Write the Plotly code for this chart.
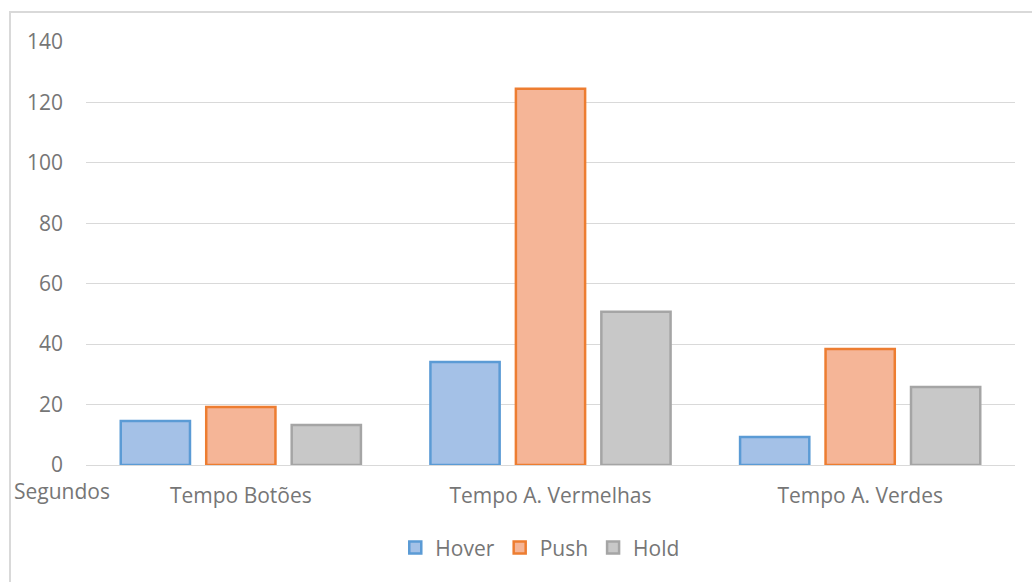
import plotly.graph_objects as go

categories = ["Tempo Botões", "Tempo A. Vermelhas", "Tempo A. Verdes"]
hover = [14.6, 34.1, 9.3]
push = [19.2, 124.5, 38.4]
hold = [13.2, 50.7, 25.8]
y_ticks = [0, 20, 40, 60, 80, 100, 120, 140]

series = [
    ("Hover", hover, "#a4c1e7", "#5b9bd5"),
    ("Push", push, "#f5b597", "#ed7d31"),
    ("Hold", hold, "#c8c8c8", "#a5a5a5"),
]

fig = go.Figure()
for name, vals, fill, line in series:
    fig.add_trace(go.Bar(
        name=name, x=categories, y=vals,
        marker=dict(color=fill, line=dict(color=line, width=2.5)),
    ))

font_family = "'Open Sans', Lato, sans-serif"
text_color = "#767676"
fs = 21
fig.update_layout(
    width=1032, height=582,
    margin=dict(l=86, r=17, t=42, b=117),
    paper_bgcolor="white", plot_bgcolor="white",
    barmode="group", bargap=0.172, bargroupgap=0.19,
    font=dict(family=font_family, size=fs, color=text_color),
    xaxis=dict(showgrid=False, showline=False, zeroline=False,
               ticks="", ticklabelstandoff=16,
               tickfont=dict(size=fs, color=text_color)),
    yaxis=dict(range=[0, 140], tickvals=y_ticks, showgrid=True,
               gridcolor="#d9d9d9", gridwidth=1, zeroline=True,
               zerolinecolor="#d9d9d9", zerolinewidth=1, showline=False,
               ticks="", ticklabelstandoff=22,
               tickfont=dict(size=fs, color=text_color)),
    legend=dict(orientation="h", x=0.489, xanchor="center", y=-0.196,
                yanchor="middle", font=dict(size=fs, color=text_color),
                itemwidth=30, traceorder="normal"),
    showlegend=True,
)

# axis title placed under the value axis
fig.add_annotation(text="Segundos", xref="paper", yref="paper",
                   x=-0.026, y=-0.061, xanchor="center", yanchor="middle",
                   showarrow=False, font=dict(size=fs, color=text_color))

# chart area border
fig.add_shape(type="rect", xref="paper", yref="paper",
              x0=-0.0818, x1=1.05, y0=-0.5, y1=1.0709,
              line=dict(color="#d9d9d9", width=2), layer="below")

fig.write_html("out.html")
